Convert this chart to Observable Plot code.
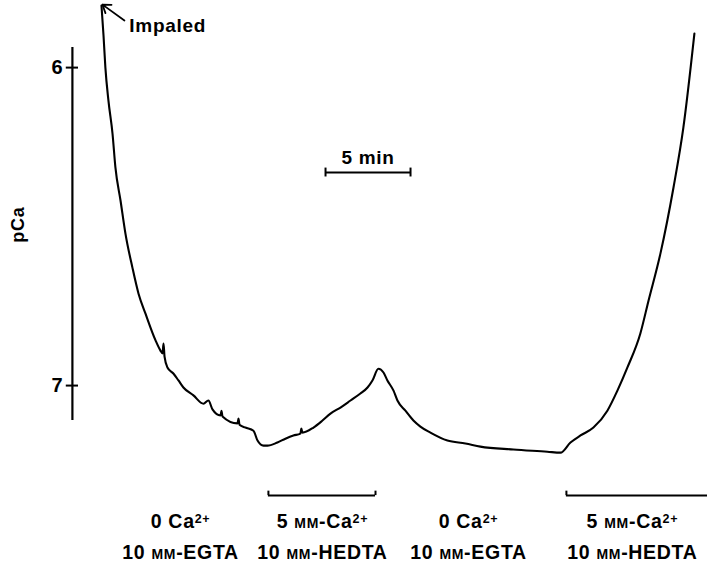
<!DOCTYPE html>
<html>
<head>
<meta charset="utf-8">
<script src="https://cdn.jsdelivr.net/npm/d3@7"></script>
<script src="https://cdn.jsdelivr.net/npm/@observablehq/plot@0.6"></script>
<style>
  html, body { margin: 0; padding: 0; background: #fff; }
  #chart svg { display: block; }
  #chart text { letter-spacing: 0.7px; }
</style>
</head>
<body>
<div id="chart"></div>
<script>
// ---- Data (time in minutes since impalement, pCa) ----
const traceTime = [0.06, 0.18, 0.29, 0.47, 0.71, 0.88, 1.18, 1.47, 1.88, 2.24, 2.65, 3.24, 3.53, 3.65, 3.71, 3.77, 3.94,
  4.29, 4.59, 4.88, 5.47, 6.06, 6.35, 6.59, 7.06, 7.12, 7.18, 8.06, 8.12, 8.18, 8.53, 9.00, 9.24, 9.59, 9.82,
  10.41, 10.88, 11.35, 11.76, 11.82, 11.88, 12.53, 13.06, 13.53, 14.12, 14.71, 15.29, 15.71, 16.00, 16.35,
  16.65, 16.88, 17.24, 17.47, 17.94, 18.41, 18.82, 19.41, 20.41, 21.47, 22.35, 24.29, 26.29, 27.06,
  27.65, 28.24, 29.00, 29.82, 30.41, 31.00, 31.76, 32.24, 32.94, 33.71, 34.29, 34.94];
const tracePCa = [5.805, 5.899, 6.000, 6.104, 6.208, 6.314, 6.418, 6.522, 6.629, 6.711, 6.774, 6.858, 6.890, 6.899, 6.868, 6.909, 6.943,
  6.962, 6.984, 7.006, 7.031, 7.057, 7.047, 7.075, 7.094, 7.079, 7.097, 7.119, 7.104, 7.123, 7.132, 7.142, 7.173, 7.189, 7.189,
  7.179, 7.167, 7.157, 7.151, 7.135, 7.148, 7.132, 7.110, 7.088, 7.069, 7.047, 7.025, 7.006, 6.984, 6.947,
  6.959, 6.984, 7.016, 7.047, 7.079, 7.110, 7.129, 7.148, 7.173, 7.182, 7.192, 7.201, 7.208, 7.211,
  7.179, 7.157, 7.132, 7.079, 7.016, 6.943, 6.836, 6.733, 6.585, 6.377, 6.189, 5.893];

const yTicks = [6, 7];
const yLabel = "pCa";

// solution periods (bars drawn under the trace)
const barStart = [9.88, 27.41];
const barEnd = [16.18, 35.8];

// solution labels
const solutionCentre = [4.71, 13.06, 21.65, 31.29];
const solutionLine1 = ["0 Ca2+", "5 mm-Ca2+", "0 Ca2+", "5 mm-Ca2+"];
const solutionLine2 = ["10 mm-EGTA", "10 mm-HEDTA", "10 mm-EGTA", "10 mm-HEDTA"];

// annotations
const impaledLabel = "Impaled";
const impaledAt = { t: 1.70, pCa: 5.868 };
const impaledArrow = { t1: 1.41, p1: 5.852, t2: 0.12, p2: 5.802 };
const scaleBar = { t1: 13.24, t2: 18.24, pCa: 6.330, label: "5 min", labelPCa: 6.284 };
const axisT = -1.65, axisTop = 5.937, axisBottom = 7.110;
const labelRow1 = 7.428, labelRow2 = 7.525, barPCa = 7.346;

const trace = traceTime.map((t, i) => ({ t, pCa: tracePCa[i] }));
const bars = barStart.map((s, i) => ({ s, e: barEnd[i] }));
const labels = solutionCentre.map((c, i) => ({ c, l1: solutionLine1[i], l2: solutionLine2[i] }));

const FONT = "'Liberation Sans', Arial, Helvetica, sans-serif";

const chart = Plot.plot({
  width: 707,
  height: 566,
  margin: 0,
  style: { fontFamily: FONT, background: "#fff", color: "#000" },
  x: { domain: [-5.88, 35.71], axis: null },
  y: { domain: [7.569, 5.789], axis: null },
  marks: [
    // y axis line + ticks + labels
    Plot.ruleX([axisT], { y1: axisTop, y2: axisBottom, stroke: "#000", strokeWidth: 2.2 }),
    Plot.ruleY(yTicks, { y: d => d, x1: axisT - 0.36, x2: axisT + 0.36, stroke: "#000", strokeWidth: 2 }),
    Plot.text(yTicks, { y: d => d, x: axisT, dx: -9, text: d => String(d), textAnchor: "end", fontSize: 20, fontWeight: "bold" }),
    Plot.text([yLabel], { x: -4.82, y: 6.494, text: d => d, rotate: -90, fontSize: 18, fontWeight: "bold" }),
    // trace
    Plot.line(trace, { x: "t", y: "pCa", curve: "monotone-x", stroke: "#000", strokeWidth: 2.1, strokeLinejoin: "round", strokeLinecap: "round" }),
    // impaled annotation
    Plot.arrow([impaledArrow], { x1: "t1", y1: "p1", x2: "t2", y2: "p2", stroke: "#000", strokeWidth: 1.8, headLength: 9, headAngle: 70 }),
    Plot.text([impaledLabel], { x: impaledAt.t, y: impaledAt.pCa, text: d => d, textAnchor: "start", fontSize: 19, fontWeight: "bold" }),
    // 5 min scale bar
    Plot.ruleY([scaleBar], { y: "pCa", x1: "t1", x2: "t2", stroke: "#000", strokeWidth: 2 }),
    Plot.ruleX([scaleBar.t1, scaleBar.t2], { x: d => d, y1: scaleBar.pCa - 0.014, y2: scaleBar.pCa + 0.014, stroke: "#000", strokeWidth: 2 }),
    Plot.text([scaleBar], { x: (scaleBar.t1 + scaleBar.t2) / 2, y: "labelPCa", text: "label", fontSize: 19, fontWeight: "bold" }),
    // solution bars
    Plot.ruleY(bars, { y: barPCa, x1: "s", x2: "e", stroke: "#000", strokeWidth: 2 }),
    Plot.ruleX(bars, { x: "s", y1: barPCa - 0.014, y2: barPCa, stroke: "#000", strokeWidth: 2 }),
    Plot.ruleX(bars.filter(b => b.e < 35), { x: "e", y1: barPCa - 0.014, y2: barPCa, stroke: "#000", strokeWidth: 2 }),
    // solution labels
    Plot.text(labels, { x: "c", y: labelRow1, text: "l1", fontSize: 19.5, fontWeight: "bold" }),
    Plot.text(labels, { x: "c", y: labelRow2, text: "l2", fontSize: 19.5, fontWeight: "bold" })
  ]
});

// typographic touches: small-caps "mm" (mM) and superscript "2+"
chart.querySelectorAll("text").forEach(t => {
  const s = t.textContent;
  if (!/mm-|Ca2\+/.test(s)) return;
  const parts = s.split(/(mm|2\+)/).filter(p => p.length);
  while (t.firstChild) t.removeChild(t.firstChild);
  const NS = "http://www.w3.org/2000/svg";
  parts.forEach(p => {
    const ts = document.createElementNS(NS, "tspan");
    ts.textContent = p;
    if (p === "mm") { ts.style.fontVariant = "small-caps"; }
    if (p === "2+") { ts.setAttribute("baseline-shift", "40%"); ts.setAttribute("font-size", "12.5"); }
    t.appendChild(ts);
  });
});

document.getElementById("chart").appendChild(chart);
</script>
</body>
</html>
